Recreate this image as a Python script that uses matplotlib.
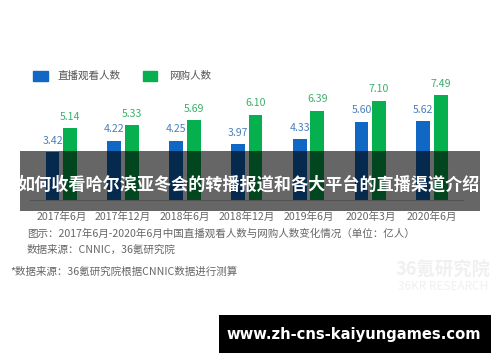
import matplotlib
matplotlib.use("Agg")
import matplotlib.pyplot as plt
from matplotlib.patches import Rectangle

plt.rcParams['font.family'] = ['Noto Sans CJK SC', 'DejaVu Sans']

categories = ["2017年6月", "2017年12月", "2018年6月", "2018年12月", "2019年6月", "2020年3月", "2020年6月"]
live_viewers = [3.42, 4.22, 4.25, 3.97, 4.33, 5.60, 5.62]
online_shoppers = [5.14, 5.33, 5.69, 6.10, 6.39, 7.10, 7.49]
series_names = ["直播观看人数", "网购人数"]

W, H = 500, 362
fig = plt.figure(figsize=(W / 100, H / 100), dpi=100)
fig.patch.set_facecolor('white')

def fx(x):
    return x / W

def fy(y):
    return 1 - y / H

blue_bar = '#1168c4'
green_bar = '#06b04f'
blue_lab = '#4a80bd'
green_lab = '#3daf69'

ax = fig.add_axes([fx(30.4), fy(200), 432.6 / W, 140 / H])
ax.set_xlim(-0.5, 6.5)
ax.set_ylim(0, 10)
x = list(range(len(categories)))
bw = 0.222
off = 0.142
b1 = ax.bar([i - off for i in x], live_viewers, width=bw, color=blue_bar, zorder=2)
b2 = ax.bar([i + off for i in x], online_shoppers, width=bw, color=green_bar, zorder=2)
for rect, v in zip(b1, live_viewers):
    ax.annotate(f"{v:.2f}", (rect.get_x() + rect.get_width() / 2, v), xytext=(0, 8.3),
                textcoords='offset points', ha='center', va='center', fontsize=7.6, color=blue_lab)
for rect, v in zip(b2, online_shoppers):
    ax.annotate(f"{v:.2f}", (rect.get_x() + rect.get_width() / 2, v), xytext=(0, 8.3),
                textcoords='offset points', ha='center', va='center', fontsize=7.6, color=green_lab)
for s in ['top', 'right', 'left']:
    ax.spines[s].set_visible(False)
ax.spines['bottom'].set_color('#cfcfcf')
ax.spines['bottom'].set_linewidth(0.8)
ax.set_yticks([])
ax.set_xticks(x)
ax.set_xticklabels(categories, fontsize=7.6, color='#666666')
ax.tick_params(axis='x', length=0, pad=8.5)
ax.patch.set_alpha(0)

# legend
fig.patches.append(Rectangle((fx(33), fy(80.7)), 14.5 / W, 9.7 / H, transform=fig.transFigure,
                             color=blue_bar, figure=fig))
fig.text(fx(57), fy(76), series_names[0], fontsize=7.6, color='#555555', va='center', ha='left')
fig.patches.append(Rectangle((fx(142.7), fy(80.7)), 14.5 / W, 9.7 / H, transform=fig.transFigure,
                             color=green_bar, figure=fig))
fig.text(fx(169), fy(76), series_names[1], fontsize=7.6, color='#555555', va='center', ha='left')

# captions
fig.text(fx(26.7), fy(234), "图示：2017年6月-2020年6月中国直播观看人数与网购人数变化情况（单位：亿人）",
         fontsize=7.6, color='#666666', va='center', ha='left')
fig.text(fx(26.7), fy(250), "数据来源：CNNIC，36氪研究院", fontsize=7.6, color='#666666', va='center', ha='left')
fig.text(fx(10), fy(272), "*数据来源：36氪研究院根据CNNIC数据进行测算", fontsize=7.6, color='#666666',
         va='center', ha='left')

# watermark
fig.text(fx(443), fy(270), "36氪研究院", fontsize=13.2, fontweight='bold', color='#f0f0f0', va='center', ha='center')
fig.text(fx(443), fy(287), "36KR RESEARCH", fontsize=8.5, color='#f0f0f0', va='center', ha='center')

# dark overlay band with title
fig.patches.append(Rectangle((fx(20), fy(211)), 460 / W, 59.5 / H, transform=fig.transFigure,
                             facecolor='black', alpha=0.6, edgecolor='none', figure=fig, zorder=5))
fig.text(fx(249), fy(185), "如何收看哈尔滨亚冬会的转播报道和各大平台的直播渠道介绍", fontsize=12.3,
         fontweight='bold', color='white', va='center', ha='center', zorder=6)

# black url box
fig.patches.append(Rectangle((fx(219), fy(353)), 272 / W, 38 / H, transform=fig.transFigure,
                             facecolor='black', edgecolor='none', figure=fig, zorder=5))
fig.text(fx(354), fy(334), "www.zh-cns-kaiyungames.com", fontsize=10.6, fontweight='bold',
         family=['DejaVu Sans'], color='white', va='center', ha='center', zorder=6)

fig.savefig("out.png", dpi=100, facecolor='white')
